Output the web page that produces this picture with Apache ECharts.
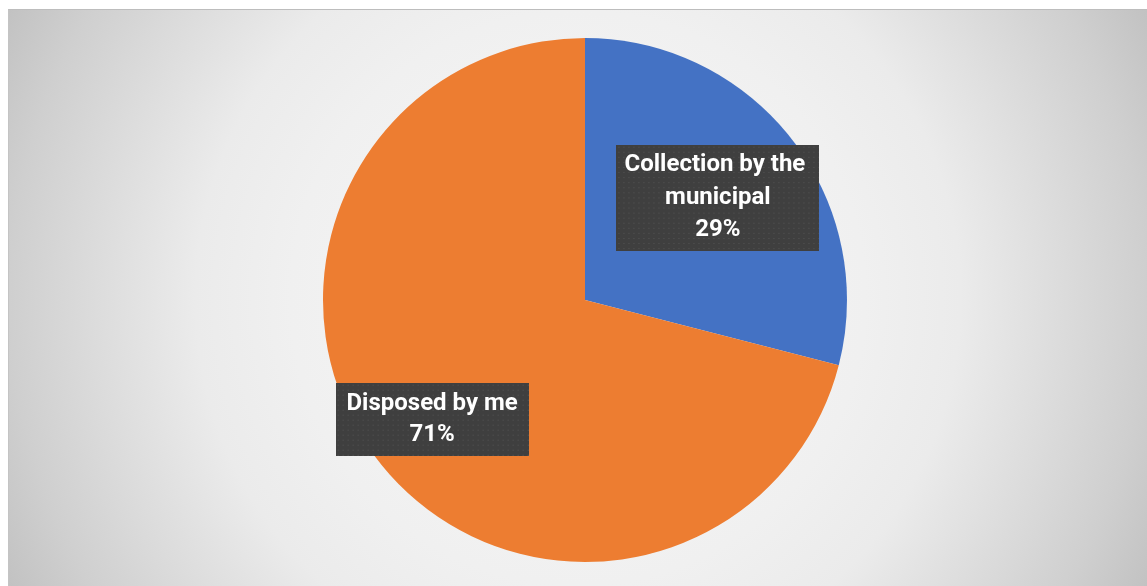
<!DOCTYPE html>
<html>
<head>
<meta charset="utf-8">
<script src="https://cdn.jsdelivr.net/npm/echarts@6/dist/echarts.min.js"></script>
<style>
  html, body { margin: 0; padding: 0; background: #ffffff; }
  #frame {
    position: absolute; left: 8px; top: 9px; width: 1139px; height: 577px;
    box-sizing: border-box;
    border-top: 1px solid #bdbdbd; border-left: 1px solid #c4c4c4;
    background: radial-gradient(circle farthest-corner at 50% 50%,
      #f8f8f8 0%, #f0f0f0 45%, #ebebeb 60%, #cfcfcf 89%, #c2c2c2 100%);
  }
  #chart { position: absolute; left: 0; top: 0; width: 1147px; height: 586px; }
</style>
</head>
<body>
<div id="frame"></div>
<div id="chart"></div>
<script>
// Waste disposal method shares
const categories = ['Collection by the municipal', 'Disposed by me'];
const shares = [29, 71];
const colors = ['#4472C4', '#ED7D31'];

// Dark dotted fill for the data label boxes
function dottedFill(w, h) {
  const c = document.createElement('canvas');
  c.width = w; c.height = h;
  const g = c.getContext('2d');
  g.fillStyle = '#3f3f3f';
  g.fillRect(0, 0, w, h);
  g.fillStyle = '#555555';
  for (let y = 2; y < h; y += 5) {
    for (let x = 2; x < w; x += 5) {
      g.fillRect(x, y, 1, 1);
    }
  }
  return c;
}

const labelStyles = [
  { width: 187, padding: [8, 8, 1, 8], offset: [27, -20], box: [203, 105], lineHeight: 32.5 },
  { width: 175, padding: [9, 9, 2, 9], offset: [-47, 37], box: [193, 73], lineHeight: 31 }
];

const chart = echarts.init(document.getElementById('chart'), null, { renderer: 'canvas' });

chart.setOption({
  backgroundColor: 'transparent',
  animation: false,
  series: [{
    type: 'pie',
    center: [585, 300],
    radius: 262,
    startAngle: 90,
    clockwise: true,
    silent: true,
    label: {
      show: true,
      position: 'inside',
      color: '#ffffff',
      fontFamily: 'Roboto, "Open Sans", sans-serif',
      fontWeight: 'bold',
      fontSize: 24,
      align: 'center',
      overflow: 'break',
      shadowColor: 'rgba(0,0,0,0.55)',
      shadowBlur: 6,
      shadowOffsetX: 3,
      shadowOffsetY: 3,
      formatter: p => p.name + '\n' + Math.round(p.percent) + '%'
    },
    labelLine: { show: false },
    data: categories.map((name, i) => ({
      name: name,
      value: shares[i],
      itemStyle: { color: colors[i] },
      label: {
        width: labelStyles[i].width,
        padding: labelStyles[i].padding,
        offset: labelStyles[i].offset,
        lineHeight: labelStyles[i].lineHeight,
        backgroundColor: { image: dottedFill(labelStyles[i].box[0], labelStyles[i].box[1]) }
      }
    }))
  }]
});
</script>
</body>
</html>
